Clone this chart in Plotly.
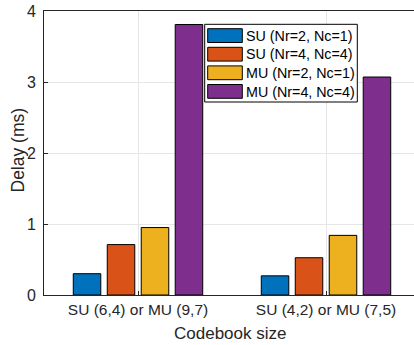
import plotly.graph_objects as go

categories = ["SU (6,4) or MU (9,7)", "SU (4,2) or MU (7,5)"]
series_names = ["SU (Nr=2, Nc=1)", "SU (Nr=4, Nc=4)", "MU (Nr=2, Nc=1)", "MU (Nr=4, Nc=4)"]
series_values = [
    [0.30, 0.27],
    [0.71, 0.525],
    [0.95, 0.84],
    [3.81, 3.07],
]
colors = ["#0072BD", "#D95319", "#EDB120", "#7E2F8E"]
x_pos = [1, 2]

W, H = 414, 345
L, R, T, B = 44, 0, 11, 50
pw, ph = W - L - R, H - T - B


def px(xp):
    return (xp - L) / pw


def py(yp):
    return (H - B - yp) / ph


fig = go.Figure()
for name, vals, col in zip(series_names, series_values, colors):
    fig.add_trace(go.Bar(x=x_pos, y=vals, name=name, showlegend=False,
                         marker=dict(color=col, line=dict(color="black", width=1))))

font_family = "Liberation Sans, Arial, Helvetica, sans-serif"
axis_color = "#262626"

shapes = []
annotations = []
# legend box
shapes.append(dict(type="rect", xref="paper", yref="paper", x0=px(204.7), x1=px(357.3),
                   y0=py(102), y1=py(24.3), fillcolor="white", line=dict(color="black", width=1), layer="above"))
row_top = 28.7
for i, (name, col) in enumerate(zip(series_names, colors)):
    y0 = row_top + i * 18.6
    shapes.append(dict(type="rect", xref="paper", yref="paper", x0=px(207.7), x1=px(242.3),
                       y0=py(y0 + 13.8), y1=py(y0), fillcolor=col,
                       line=dict(color="black", width=1), layer="above"))
    annotations.append(dict(xref="paper", yref="paper", x=px(243.5), y=py(y0 + 7.2), text=name,
                            showarrow=False, xanchor="left", yanchor="middle",
                            font=dict(size=14.3, color="black")))
# axis titles
annotations.append(dict(xref="paper", yref="paper", x=px(230.5), y=py(333), text="Codebook size",
                        showarrow=False, xanchor="center", yanchor="middle",
                        font=dict(size=17, color=axis_color)))
annotations.append(dict(xref="paper", yref="paper", x=px(17.5), y=py(150), text="Delay (ms)",
                        showarrow=False, xanchor="center", yanchor="middle", textangle=-90,
                        font=dict(size=17.5, color=axis_color)))

fig.update_layout(
    width=W, height=H,
    margin=dict(l=L, r=R, t=T, b=B, autoexpand=False),
    paper_bgcolor="white", plot_bgcolor="white",
    barmode="group", bargap=0.277, bargroupgap=0.19,
    font=dict(family=font_family, size=14, color=axis_color),
    showlegend=False,
    shapes=shapes, annotations=annotations,
)
fig.update_xaxes(
    range=[0.5, 0.5 + pw / 188], tickmode="array", tickvals=x_pos, ticktext=categories,
    showgrid=True, gridcolor="#E6E6E6", gridwidth=1,
    showline=True, linecolor=axis_color, linewidth=1, mirror=True,
    ticks="inside", ticklen=4, tickcolor=axis_color,
    tickfont=dict(size=15.5), zeroline=False, automargin=False,
)
fig.update_yaxes(
    range=[0, 4], tickvals=[0, 1, 2, 3, 4],
    showgrid=True, gridcolor="#E6E6E6", gridwidth=1,
    showline=True, linecolor=axis_color, linewidth=1, mirror=False,
    ticks="inside", ticklen=4, tickcolor=axis_color,
    tickfont=dict(size=16), zeroline=False, automargin=False, ticklabelstandoff=4,
)
fig.write_html("out.html", config={"displayModeBar": False},
               post_script="document.body.style.margin='0';document.body.style.overflow='hidden';")
